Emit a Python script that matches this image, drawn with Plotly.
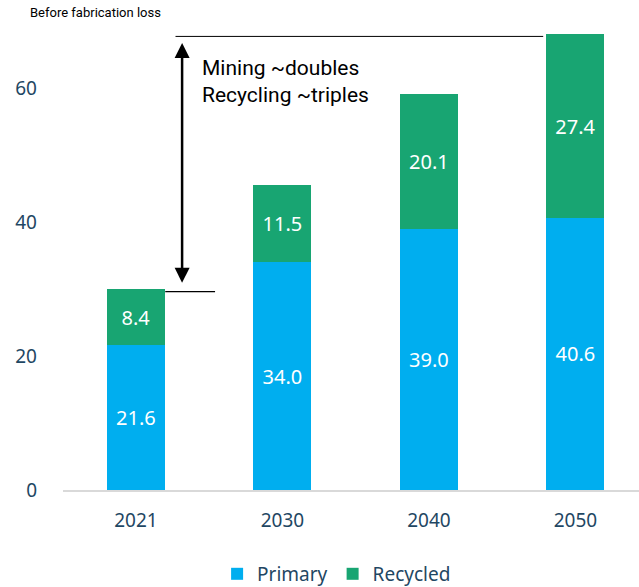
import plotly.graph_objects as go

# Demand by year, split into primary (mined) and recycled supply
years = ["2021", "2030", "2040", "2050"]
primary = [21.6, 34.0, 39.0, 40.6]
recycled = [8.4, 11.5, 20.1, 27.4]
y_ticks = [0, 20, 40, 60]

totals = [p + r for p, r in zip(primary, recycled)]

BLUE = "#00AEEF"
GREEN = "#18A572"
NAVY = "#1F4763"
FONT = "Noto Sans"

fig = go.Figure()
for name, vals, col in [("Primary", primary, BLUE), ("Recycled", recycled, GREEN)]:
    fig.add_trace(go.Bar(
        x=years, y=vals, name=name, marker=dict(color=col, line=dict(width=0)),
        width=0.396,
        texttemplate="%{y:.1f}", textposition="inside", insidetextanchor="middle",
        textfont=dict(color="white", size=20, family=FONT),
        hoverinfo="skip",
    ))

# Bracket lines marking 2021 and 2050 totals, with the double arrow between them
fig.add_shape(type="line", xref="x", yref="y", x0=0.27, x1=2.78,
              y0=totals[3] - 0.3, y1=totals[3] - 0.3, line=dict(color="black", width=1))
fig.add_shape(type="line", xref="x", yref="y", x0=0.2, x1=0.54,
              y0=totals[0] - 0.4, y1=totals[0] - 0.4, line=dict(color="black", width=1.2))
fig.add_annotation(xref="x", yref="y", x=0.315, y=totals[3] - 1.3,
                   ax=0.315, ay=totals[0] + 0.7, axref="x", ayref="y",
                   showarrow=True, arrowhead=2, arrowside="end+start",
                   arrowsize=1.2, arrowwidth=2.5, arrowcolor="black", text="")
fig.add_annotation(xref="x", yref="y", x=0.44, y=61.0, xanchor="left", yanchor="middle",
                   text="Mining ~doubles<br>Recycling ~triples", showarrow=False, align="left",
                   font=dict(color="black", size=21, family="Roboto"))
fig.add_annotation(xref="paper", yref="paper", x=-0.061, y=1.019, xanchor="left", yanchor="middle",
                   text="Before fabrication loss", showarrow=False,
                   font=dict(color="black", size=13, family="Roboto"))

fig.update_layout(
    barmode="stack",
    width=639, height=587,
    margin=dict(l=63, r=0, t=21, b=97, autoexpand=False),
    plot_bgcolor="white", paper_bgcolor="white",
    font=dict(family=FONT, color=NAVY),
    showlegend=True,
    legend=dict(orientation="h", x=0.475, xanchor="center", y=-0.179, yanchor="middle",
                font=dict(size=19, color=NAVY, family=FONT), traceorder="normal",
                itemwidth=30),
    xaxis=dict(type="category", range=[-0.498, 3.434], showline=True,
               linecolor="#D9D9D9", linewidth=2, ticks="", showgrid=False,
               ticklabelstandoff=12,
               tickfont=dict(size=19, color=NAVY, family=FONT)),
    yaxis=dict(range=[0, 70], tickvals=y_ticks, showgrid=False, zeroline=False,
               showline=False, ticks="", ticklabelstandoff=25,
               tickfont=dict(size=19, color=NAVY, family=FONT)),
)

fig.write_html("out.html")
